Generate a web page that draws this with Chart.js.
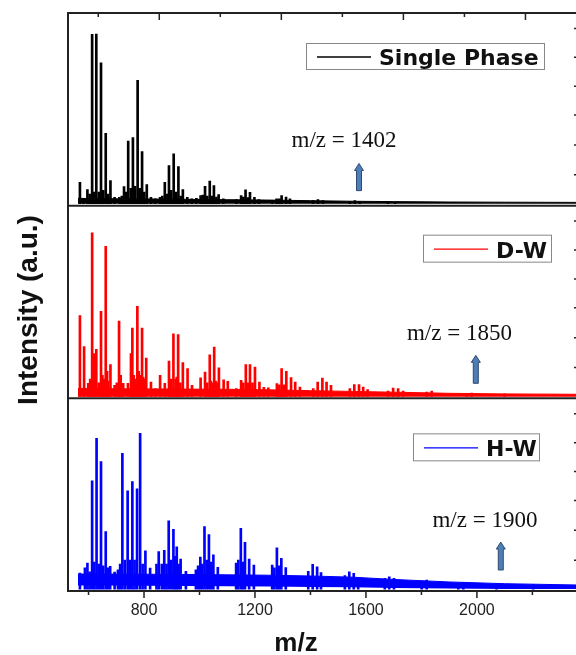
<!DOCTYPE html>
<html>
<head>
<meta charset="utf-8">
<script src="https://cdn.jsdelivr.net/npm/chart.js@4.4.1/dist/chart.umd.min.js"></script>
<style>
  html, body { margin: 0; padding: 0; background: #fff; }
  #wrap { width: 576px; height: 655px; overflow: hidden; }
</style>
</head>
<body>
<div id="wrap"><canvas id="spectra" width="620" height="655"></canvas></div>
<script>
// peak positions (m/z) and heights (a.u., 0-100 per panel)
const singleMz = [569, 582, 596, 604, 613, 620, 628, 637, 645, 653, 662, 670, 679, 694, 711, 720, 728, 736, 743, 752, 760, 768, 777, 785, 793, 801, 810, 825, 841, 858, 866, 875, 882, 890, 898, 907, 915, 924, 932, 940, 956, 972, 989, 1004, 1012, 1020, 1028, 1037, 1045, 1052, 1061, 1069, 1086, 1133, 1150, 1158, 1166, 1174, 1182, 1198, 1214, 1262, 1278, 1288, 1296, 1312, 1326, 1409, 1427, 1445, 1542, 1560, 1578, 1679, 1705];
const singleInt = [12.1, 3.5, 8.3, 6, 88.9, 7, 89.1, 7, 74.1, 8, 37.5, 6, 13.0, 4.3, 4.3, 5, 9.9, 7, 33.5, 9, 35.3, 10, 65.1, 9, 28.1, 7, 10.9, 4.3, 3.5, 4.3, 5, 12.1, 6, 20.8, 8, 26.9, 7, 20.3, 5, 8.3, 4.3, 3.5, 3.8, 5.2, 5.5, 10.1, 5, 12.7, 5, 10.4, 4.5, 5.7, 3.6, 3.2, 5.2, 4.5, 8.2, 4.2, 6.9, 4.3, 3.2, 2.8, 3.6, 3.5, 5.2, 4.4, 3.5, 2.6, 3.1, 2.6, 2.1, 2.6, 2.1, 1.8, 1.8];

const dwMz = [569, 584, 599, 606, 613, 621, 628, 637, 645, 650, 655, 662, 667, 670, 679, 694, 702, 710, 716, 725, 742, 753, 758, 763, 768, 776, 781, 785, 793, 797, 800, 808, 825, 841, 858, 875, 890, 898, 906, 914, 918, 923, 931, 940, 957, 973, 1004, 1020, 1028, 1037, 1041, 1045, 1053, 1058, 1062, 1070, 1087, 1102, 1133, 1150, 1158, 1167, 1174, 1182, 1191, 1200, 1216, 1232, 1248, 1279, 1288, 1296, 1304, 1313, 1330, 1345, 1362, 1410, 1426, 1443, 1458, 1474, 1542, 1558, 1575, 1590, 1606, 1680, 1698, 1716, 1734, 1819, 1837, 1963, 1981, 2100];
const dwInt = [43.0, 26.9, 7.8, 10, 85.9, 23.2, 25.4, 8, 45.2, 12, 10, 78.9, 14, 9, 17.5, 6.7, 8, 40.1, 12, 7.8, 7.8, 23.2, 36.4, 12, 10, 47.7, 14, 12, 36.4, 11, 10, 20.9, 8.4, 5, 11.9, 7.8, 19.3, 10, 33.5, 10, 11, 33.1, 8, 18.5, 15.4, 6.7, 10.6, 13.6, 8, 22.6, 9, 8, 26.6, 9, 8, 15.8, 9.6, 8.8, 5, 9.3, 8, 17.5, 8, 17.5, 8, 16.2, 8.4, 5.7, 5.5, 7.6, 7, 15.5, 7, 14.0, 10.8, 8.4, 5.9, 5.0, 8.4, 10.5, 8.4, 6.7, 5.0, 7.1, 7.1, 5.9, 4.5, 3.8, 5.3, 5.0, 3.8, 3.3, 3.8, 2.4, 2.7, 2.3];

const hwMz = [569, 587, 596, 604, 613, 621, 629, 637, 645, 653, 662, 670, 678, 694, 706, 714, 722, 731, 741, 749, 758, 766, 775, 786, 795, 805, 822, 845, 853, 864, 873, 881, 889, 898, 906, 912, 918, 925, 932, 951, 987, 995, 1003, 1010, 1018, 1026, 1034, 1042, 1050, 1066, 1132, 1140, 1149, 1156, 1164, 1179, 1196, 1262, 1270, 1279, 1287, 1295, 1311, 1392, 1408, 1424, 1438, 1524, 1540, 1556, 1572, 1668, 1684, 1701, 1801, 1819, 1933, 1951, 2071, 2203];
const hwInt = [9.3, 12, 14.5, 10, 57.2, 15, 79.2, 14, 67.2, 13, 30.9, 12, 12.8, 9.8, 11, 14, 71.4, 16, 52.0, 16, 56.8, 16, 53.0, 81.9, 14, 20.9, 11.9, 14, 20.5, 14, 21.1, 14, 36.4, 16, 32.0, 18, 22.9, 14, 16.6, 10.2, 11.0, 13, 17.6, 14, 33.4, 16, 29.3, 15, 18.8, 12.3, 14.5, 16, 32.5, 15, 25.3, 16.6, 13.5, 13.5, 12, 22.4, 13, 16.9, 12.2, 10.2, 13.9, 12.6, 9.5, 8.0, 10.0, 9.2, 6.9, 6.6, 7.3, 6.6, 5.2, 5.7, 4.3, 4.5, 4.0, 3.5];

// noisy baseline band (upper / lower edge)
const bandMz = [562, 650, 800, 950, 1100, 1250, 1400, 1550, 1700, 1900, 2100, 2368];
const singleBandTop = [3.8, 3.6, 3.5, 3.3, 3.1, 2.9, 2.6, 2.3, 2.1, 1.9, 1.8, 1.7];
const singleBandLow = [1.0, 1.0, 1.0, 1.0, 1.0, 1.0, 1.0, 1.0, 1.0, 1.0, 1.0, 1.0];
const dwBandTop = [5.2, 5.0, 4.9, 4.8, 4.7, 4.4, 4.0, 3.6, 3.2, 2.6, 2.3, 2.1];
const dwBandLow = [0.8, 0.8, 0.8, 0.8, 0.8, 0.8, 0.8, 0.8, 0.8, 0.8, 0.8, 0.8];
const hwBandTop = [8.8, 8.8, 8.7, 8.6, 8.4, 8.2, 7.8, 7.2, 6.0, 4.7, 3.8, 3.1];
const hwBandLow = [2.8, 2.8, 2.7, 2.6, 2.5, 2.3, 2.1, 1.9, 1.6, 1.3, 1.1, 1.0];

const seriesNames = ['Single Phase', 'D-W', 'H-W'];
const noteLabels = ['m/z = 1402', 'm/z = 1850', 'm/z = 1900'];
const noteMz = [1521, 1937, 2029];
const noteLevel = [30.2, 30.1, 33.3];
const arrowMz = [1575, 1996, 2086];
const arrowFrom = [7.8, 7.8, 10.9];
const arrowTo = [21.9, 22.3, 25.4];

const topTicks = [635, 855, 1075, 1295, 1515, 1735, 1955, 2175];
const rightTicks = [16, 31.5, 47, 62, 77, 92];

const panels = [
    { axis: 'yA', color: '#000000', mz: singleMz, inten: singleInt, top: singleBandTop, low: singleBandLow },
    { axis: 'yB', color: '#ff0000', mz: dwMz, inten: dwInt, top: dwBandTop, low: dwBandLow },
    { axis: 'yC', color: '#0000ff', mz: hwMz, inten: hwInt, top: hwBandTop, low: hwBandLow }
];
// legend box placement, relative to the panel top
const legendBox = [
    { x: 306, dy: 30, w: 238, h: 26 },
    { x: 423, dy: 29, w: 128, h: 27 },
    { x: 413, dy: 35, w: 126, h: 27 }
];

function buildDatasets() {
    const sets = [];
    panels.forEach((p) => {
        sets.push({
            type: 'line', yAxisID: p.axis,
            data: bandMz.map((m, i) => ({ x: m, y: p.low[i] })),
            borderWidth: 0, pointRadius: 0, fill: false, borderColor: p.color
        });
        sets.push({
            type: 'line', yAxisID: p.axis,
            data: bandMz.map((m, i) => ({ x: m, y: p.top[i] })),
            borderWidth: 1, pointRadius: 0, fill: '-1',
            borderColor: p.color, backgroundColor: p.color
        });
        sets.push({
            type: 'bar', yAxisID: p.axis, grouped: false, base: 1,
            data: p.mz.map((m, i) => ({ x: m, y: p.inten[i] })),
            barThickness: 2,
            backgroundColor: p.color, borderWidth: 0
        });
    });
    return sets;
}

function drawArrow(ctx, x, yBottom, yTip) {
    const shaft = 2.5, head = 4.5, headH = 7;
    ctx.beginPath();
    ctx.moveTo(x - shaft, yBottom);
    ctx.lineTo(x - shaft, yTip + headH);
    ctx.lineTo(x - head, yTip + headH);
    ctx.lineTo(x, yTip);
    ctx.lineTo(x + head, yTip + headH);
    ctx.lineTo(x + shaft, yTip + headH);
    ctx.lineTo(x + shaft, yBottom);
    ctx.closePath();
    ctx.fillStyle = '#4f7db5';
    ctx.fill();
    ctx.strokeStyle = '#2e4c70';
    ctx.lineWidth = 1;
    ctx.stroke();
}

const panelDecor = {
    id: 'panelDecor',
    afterDraw(chart) {
        const ctx = chart.ctx;
        const area = chart.chartArea;
        const xs = chart.scales.x;
        ctx.save();

        // frame and panel dividers
        ctx.strokeStyle = '#222';
        ctx.lineWidth = 2;
        ctx.strokeRect(area.left, area.top, area.right - area.left, area.bottom - area.top);
        panels.slice(0, 2).forEach((p) => {
            const yb = chart.scales[p.axis].bottom;
            ctx.beginPath();
            ctx.moveTo(area.left, yb);
            ctx.lineTo(area.right, yb);
            ctx.stroke();
        });

        // ticks: bottom (outward), top and right (inward)
        ctx.lineWidth = 1.5;
        ctx.beginPath();
        xs.ticks.forEach((t) => {
            const px = xs.getPixelForValue(t.value);
            const len = t.value % 400 === 0 ? 7 : 4;
            ctx.moveTo(px, area.bottom);
            ctx.lineTo(px, area.bottom + len);
        });
        topTicks.forEach((v, i) => {
            const px = xs.getPixelForValue(v);
            ctx.moveTo(px, area.top);
            ctx.lineTo(px, area.top + (i % 2 ? 7 : 4));
        });
        panels.forEach((p) => {
            const ys = chart.scales[p.axis];
            rightTicks.forEach((v) => {
                const py = ys.getPixelForValue(v);
                ctx.moveTo(area.right, py);
                ctx.lineTo(area.right - 5, py);
            });
        });
        ctx.stroke();

        // legends, notes and arrows per panel
        panels.forEach((p, i) => {
            const ys = chart.scales[p.axis];
            const b = legendBox[i];
            const by = ys.top + b.dy;
            ctx.fillStyle = '#fff';
            ctx.fillRect(b.x, by, b.w, b.h);
            ctx.strokeStyle = '#888';
            ctx.lineWidth = 1;
            ctx.strokeRect(b.x + 0.5, by + 0.5, b.w, b.h);
            ctx.strokeStyle = p.color;
            ctx.lineWidth = 1.3;
            ctx.beginPath();
            ctx.moveTo(b.x + 11, by + b.h / 2 + 1);
            ctx.lineTo(b.x + 65, by + b.h / 2 + 1);
            ctx.stroke();
            ctx.fillStyle = '#111';
            ctx.font = 'bold 22px "DejaVu Sans"';
            ctx.textAlign = 'left';
            ctx.textBaseline = 'alphabetic';
            ctx.fillText(seriesNames[i], b.x + 73, by + b.h - 4);

            ctx.font = '23px "Liberation Serif"';
            ctx.textAlign = 'center';
            ctx.fillText(noteLabels[i], xs.getPixelForValue(noteMz[i]), ys.getPixelForValue(noteLevel[i]));

            drawArrow(ctx, xs.getPixelForValue(arrowMz[i]), ys.getPixelForValue(arrowFrom[i]), ys.getPixelForValue(arrowTo[i]));
        });

        // axis titles
        ctx.fillStyle = '#111';
        ctx.textAlign = 'center';
        ctx.textBaseline = 'alphabetic';
        ctx.font = 'bold 26px "Liberation Sans"';
        ctx.fillText('m/z', area.left + 228, 651);
        ctx.translate(37, (area.top + area.bottom) / 2 + 8);
        ctx.rotate(-Math.PI / 2);
        ctx.font = 'bold 28px "Liberation Sans"';
        ctx.fillText('Intensity (a.u.)', 0, 0);
        ctx.restore();
    }
};

function yPanel(weight) {
    return {
        type: 'linear', position: 'left', stack: 'panels', stackWeight: weight,
        min: 0, max: 100,
        grid: { display: false, drawTicks: false },
        border: { display: false },
        ticks: { display: false }
    };
}

const ctx = document.getElementById('spectra').getContext('2d');
new Chart(ctx, {
    type: 'bar',
    data: { datasets: buildDatasets() },
    options: {
        responsive: false,
        animation: false,
        layout: { padding: { left: 68, top: 13, right: 41, bottom: 0 } },
        plugins: { legend: { display: false }, tooltip: { enabled: false } },
        scales: {
            x: {
                type: 'linear', offset: false, min: 526, max: 2368,
                grid: { display: false, drawTicks: false },
                border: { display: false },
                ticks: {
                    stepSize: 200, autoSkip: false, includeBounds: false, maxRotation: 0,
                    callback: (v) => (v % 400 === 0 ? v : ''),
                    font: { family: 'Liberation Sans', size: 16 }, color: '#222', padding: 10
                },
                afterFit: (s) => { s.height = 64; }
            },
            yC: yPanel(1),
            yB: yPanel(1),
            yA: yPanel(1)
        }
    },
    plugins: [panelDecor]
});
</script>
</body>
</html>
